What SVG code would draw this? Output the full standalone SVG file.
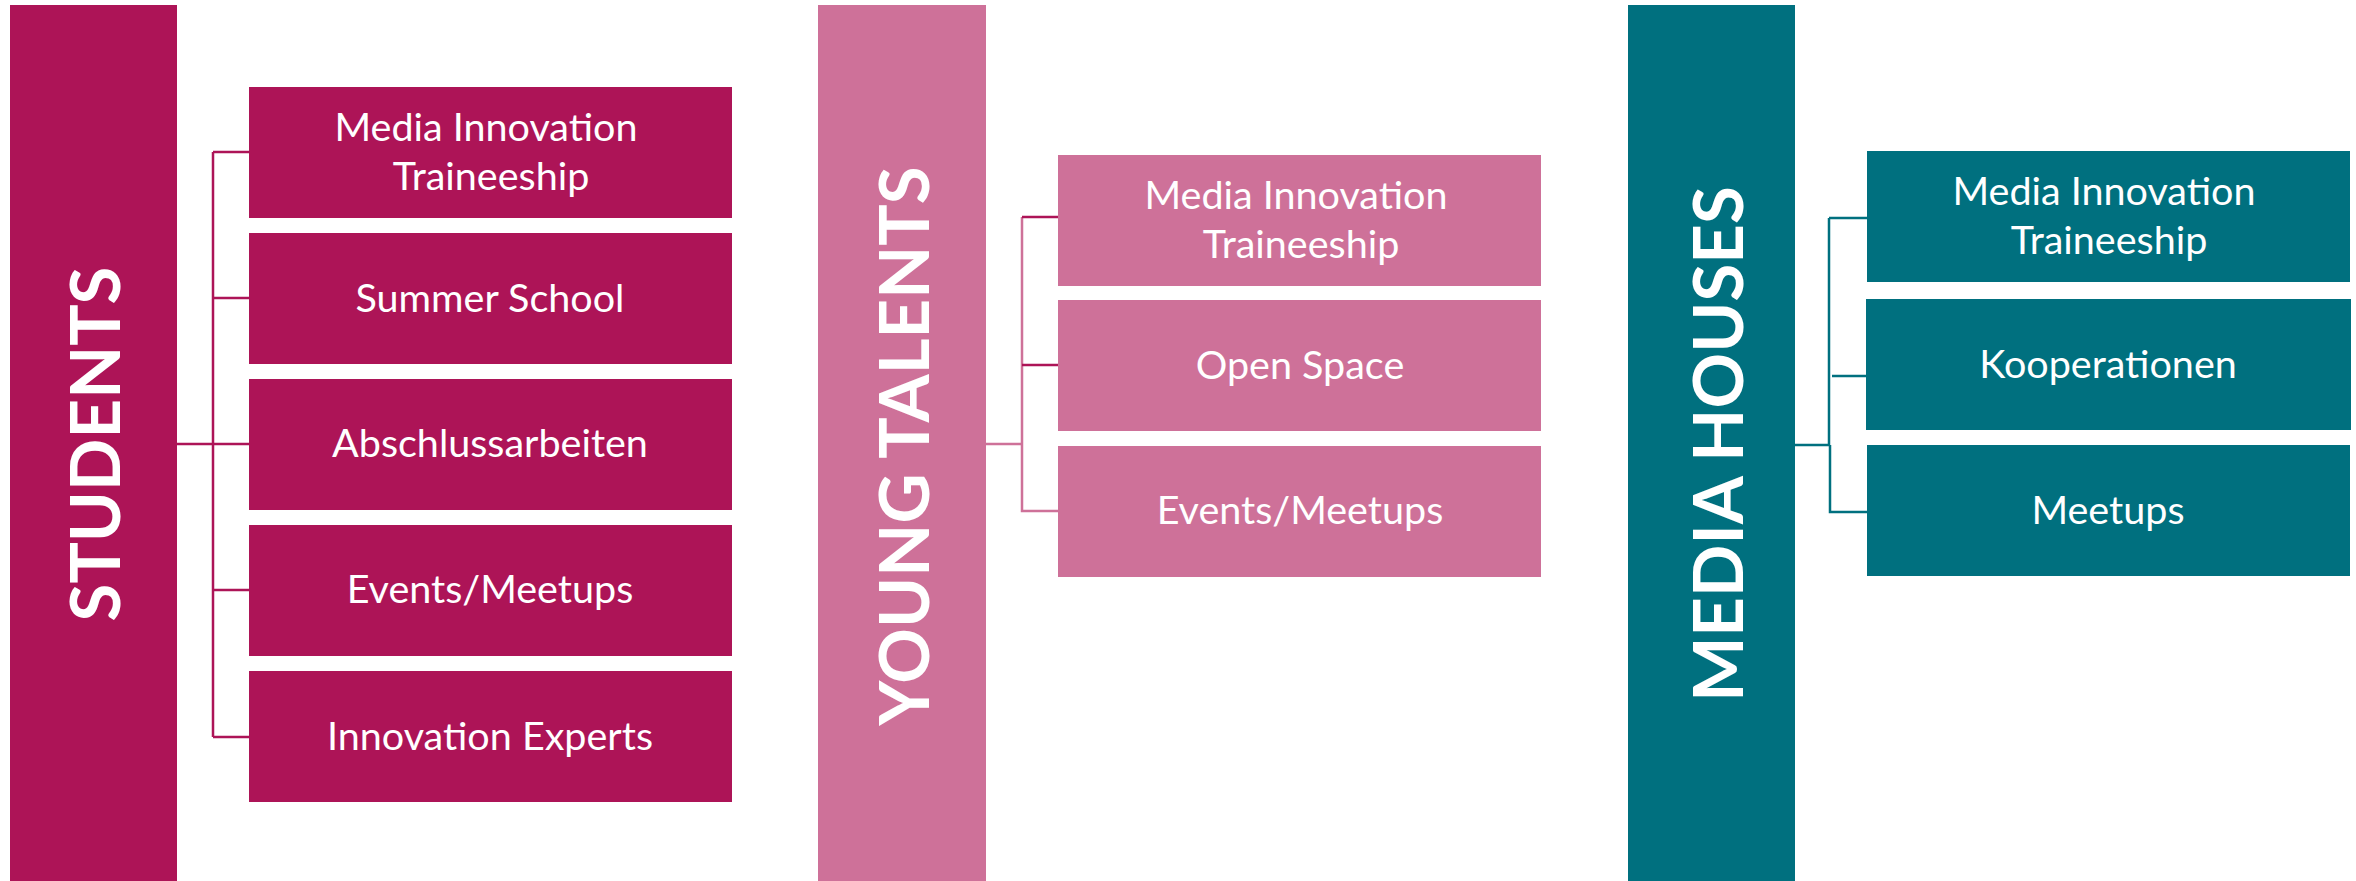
<svg xmlns="http://www.w3.org/2000/svg" width="2356" height="881" viewBox="0 0 2356 881">
<style>
.st{fill:#AD1457}
.yt{fill:#CE7199}
.mh{fill:#00707F}
.lbl{font-family:Lato,"Open Sans","Liberation Sans",sans-serif;font-size:39.5px;fill:#FFFFFF;text-anchor:middle}
.head{font-family:Lato,"Open Sans","Liberation Sans",sans-serif;font-size:69px;font-weight:bold;fill:#FFFFFF;text-anchor:middle}
.c-st{stroke:#AD1457;stroke-width:2.5;fill:none}
.c-yt{stroke:#CE7199;stroke-width:2.5;fill:none}
.c-ytd{stroke:#AD1457;stroke-width:2.5;fill:none}
.c-mh{stroke:#00707F;stroke-width:2.5;fill:none}
</style>
<rect width="2356" height="881" fill="#FFFFFF"/>
<g id="connectors">
<path class="c-st" d="M177 444H213M213 152V737M213 152H249M213 298H249M213 444H249M213 590H249M213 737H249"/>
<path class="c-yt" d="M986 444H1022M1022 217V511H1058"/>
<path class="c-ytd" d="M1022 217H1058M1022 365H1058"/>
<path class="c-mh" d="M1795 445H1829M1829 218V445M1830 445V512H1867M1829 218H1867M1832 376H1866"/>
</g>
<g id="students">
<rect class="st" x="10" y="5" width="167" height="876"/>
<text class="head" transform="translate(120,444) rotate(-90)">STUDENTS</text>
</g>
<g id="st-mit">
<rect class="st" x="249" y="87" width="483" height="131"/>
<text class="lbl" x="486" y="141">Media Innovation</text>
<text class="lbl" x="491" y="190">Traineeship</text>
</g>
<g id="st-summer">
<rect class="st" x="249" y="233" width="483" height="131"/>
<text class="lbl" x="490" y="312">Summer School</text>
</g>
<g id="st-abschluss">
<rect class="st" x="249" y="379" width="483" height="131"/>
<text class="lbl" x="490" y="457">Abschlussarbeiten</text>
</g>
<g id="st-events">
<rect class="st" x="249" y="525" width="483" height="131"/>
<text class="lbl" x="490" y="603">Events/Meetups</text>
</g>
<g id="st-experts">
<rect class="st" x="249" y="671" width="483" height="131"/>
<text class="lbl" x="490" y="750">Innovation Experts</text>
</g>
<g id="young-talents">
<rect class="yt" x="818" y="5" width="168" height="876"/>
<text class="head" transform="translate(929,446) rotate(-90)">YOUNG TALENTS</text>
</g>
<g id="yt-mit">
<rect class="yt" x="1058" y="155" width="483" height="131"/>
<text class="lbl" x="1296" y="209">Media Innovation</text>
<text class="lbl" x="1301" y="258">Traineeship</text>
</g>
<g id="yt-open">
<rect class="yt" x="1058" y="300" width="483" height="131"/>
<text class="lbl" x="1300" y="379">Open Space</text>
</g>
<g id="yt-events">
<rect class="yt" x="1058" y="446" width="483" height="131"/>
<text class="lbl" x="1300" y="524">Events/Meetups</text>
</g>
<g id="media-houses">
<rect class="mh" x="1628" y="5" width="167" height="876"/>
<text class="head" transform="translate(1743,444) rotate(-90)">MEDIA HOUSES</text>
</g>
<g id="mh-mit">
<rect class="mh" x="1867" y="151" width="483" height="131"/>
<text class="lbl" x="2104" y="205">Media Innovation</text>
<text class="lbl" x="2109" y="254">Traineeship</text>
</g>
<g id="mh-koop">
<rect class="mh" x="1866" y="299" width="485" height="131"/>
<text class="lbl" x="2108" y="378">Kooperationen</text>
</g>
<g id="mh-meetups">
<rect class="mh" x="1867" y="445" width="483" height="131"/>
<text class="lbl" x="2108" y="524">Meetups</text>
</g>
</svg>
